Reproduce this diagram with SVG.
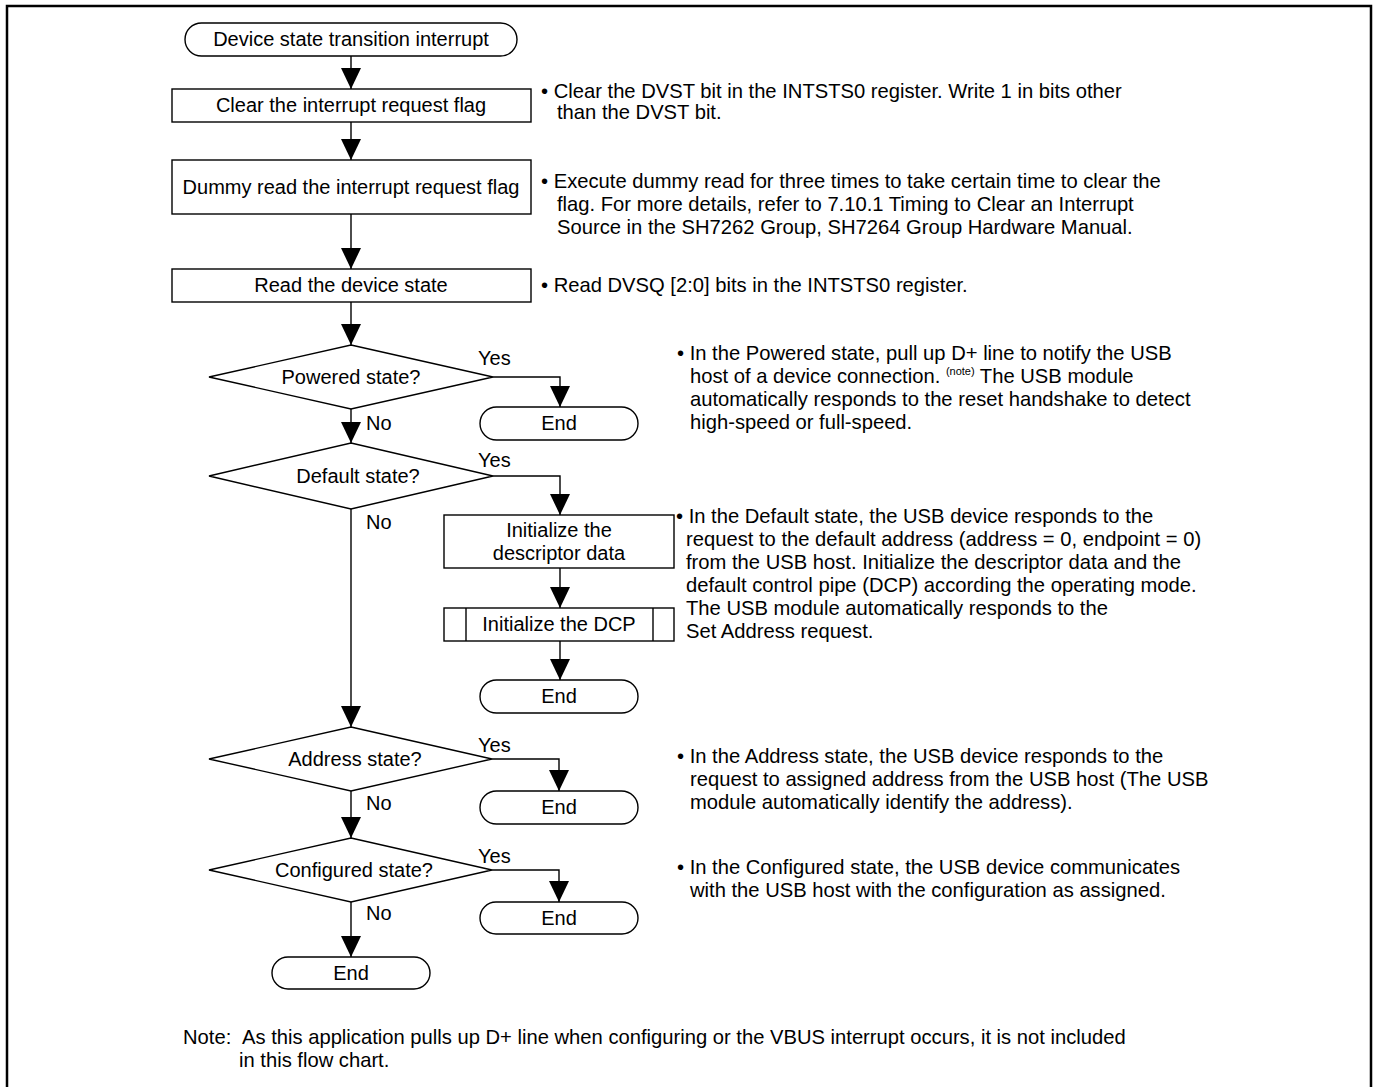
<svg xmlns="http://www.w3.org/2000/svg" width="1374" height="1087" viewBox="0 0 1374 1087">
  <style>
    .shape { fill: #ffffff; stroke: #000000; stroke-width: 1.4; }
    .line { fill: none; stroke: #000000; stroke-width: 1.4; }
    .t { font-family: "Liberation Sans", Arial, sans-serif; font-size: 20px; fill: #000000; }
    .n { font-size: 20.2px; }
    .c { text-anchor: middle; }
    .sup { font-size: 11px; }
  </style>
  <defs>
    <marker id="arrow" markerUnits="userSpaceOnUse" markerWidth="21" markerHeight="20" refX="21" refY="10" orient="auto" viewBox="0 0 21 20">
      <path d="M0,0 L21,10 L0,20 Z" fill="#000000"/>
    </marker>
  </defs>
  <rect width="1374" height="1087" fill="#ffffff"/>

  <!-- outer frame (open at the bottom edge of the page) -->
  <path d="M7,1095 L7,6 L1371,6 L1371,1095" fill="none" stroke="#000000" stroke-width="2.5"/>

  <!-- connectors -->
  <g id="connectors">
    <path class="line" d="M351,56 L351,89" marker-end="url(#arrow)"/>
    <path class="line" d="M351,122 L351,160" marker-end="url(#arrow)"/>
    <path class="line" d="M351,214 L351,269" marker-end="url(#arrow)"/>
    <path class="line" d="M351,302 L351,345" marker-end="url(#arrow)"/>
    <path class="line" d="M351,409 L351,443" marker-end="url(#arrow)"/>
    <path class="line" d="M351,509 L351,727" marker-end="url(#arrow)"/>
    <path class="line" d="M351,791 L351,838" marker-end="url(#arrow)"/>
    <path class="line" d="M351,902 L351,957" marker-end="url(#arrow)"/>
    <path class="line" d="M493,377 L560,377 L560,407" marker-end="url(#arrow)"/>
    <path class="line" d="M493,476 L560,476 L560,515" marker-end="url(#arrow)"/>
    <path class="line" d="M560,568 L560,608" marker-end="url(#arrow)"/>
    <path class="line" d="M560,641 L560,680" marker-end="url(#arrow)"/>
    <path class="line" d="M492,759 L559,759 L559,791" marker-end="url(#arrow)"/>
    <path class="line" d="M492,870 L559,870 L559,902" marker-end="url(#arrow)"/>
    <text class="t" x="478" y="365">Yes</text>
    <text class="t" x="478" y="467">Yes</text>
    <text class="t" x="478" y="752">Yes</text>
    <text class="t" x="478" y="863">Yes</text>
    <text class="t" x="366" y="430">No</text>
    <text class="t" x="366" y="529">No</text>
    <text class="t" x="366" y="810">No</text>
    <text class="t" x="366" y="920">No</text>
  </g>

  <!-- flow nodes -->
  <g id="start">
    <rect class="shape" x="185" y="23" width="332" height="33" rx="16.5" ry="16.5"/>
    <text class="t c" x="351" y="46">Device state transition interrupt</text>
  </g>
  <g id="clear-flag">
    <rect class="shape" x="172" y="89" width="359" height="33"/>
    <text class="t c" x="351" y="112">Clear the interrupt request flag</text>
  </g>
  <g id="dummy-read">
    <rect class="shape" x="172" y="160" width="359" height="54"/>
    <text class="t c" x="351" y="194">Dummy read the interrupt request flag</text>
  </g>
  <g id="read-state">
    <rect class="shape" x="172" y="269" width="359" height="33"/>
    <text class="t c" x="351" y="292">Read the device state</text>
  </g>
  <g id="powered">
    <polygon class="shape" points="351,345 493,377 351,409 209,377"/>
    <text class="t c" x="351" y="384">Powered state?</text>
  </g>
  <g id="end-powered">
    <rect class="shape" x="480" y="407" width="158" height="33" rx="16.5" ry="16.5"/>
    <text class="t c" x="559" y="430">End</text>
  </g>
  <g id="default">
    <polygon class="shape" points="351,443 493,476 351,509 209,476"/>
    <text class="t c" x="358" y="483">Default state?</text>
  </g>
  <g id="init-descriptor">
    <rect class="shape" x="444" y="515" width="230" height="53"/>
    <text class="t c" x="559" y="537">Initialize the</text>
    <text class="t c" x="559" y="560">descriptor data</text>
  </g>
  <g id="init-dcp">
    <rect class="shape" x="444" y="608" width="230" height="33"/>
    <line class="line" x1="466" y1="608" x2="466" y2="641"/>
    <line class="line" x1="653" y1="608" x2="653" y2="641"/>
    <text class="t c" x="559" y="631">Initialize the DCP</text>
  </g>
  <g id="end-default">
    <rect class="shape" x="480" y="680" width="158" height="33" rx="16.5" ry="16.5"/>
    <text class="t c" x="559" y="703">End</text>
  </g>
  <g id="address">
    <polygon class="shape" points="351,727 492,759 351,791 209,759"/>
    <text class="t c" x="355" y="766">Address state?</text>
  </g>
  <g id="end-address">
    <rect class="shape" x="480" y="791" width="158" height="33" rx="16.5" ry="16.5"/>
    <text class="t c" x="559" y="814">End</text>
  </g>
  <g id="configured">
    <polygon class="shape" points="351,838 492,870 351,902 209,870"/>
    <text class="t c" x="354" y="877">Configured state?</text>
  </g>
  <g id="end-configured">
    <rect class="shape" x="480" y="902" width="158" height="32" rx="16" ry="16"/>
    <text class="t c" x="559" y="925">End</text>
  </g>
  <g id="end-final">
    <rect class="shape" x="272" y="957" width="158" height="32" rx="16" ry="16"/>
    <text class="t c" x="351" y="980">End</text>
  </g>

  <!-- explanatory notes -->
  <g id="note-clear">
    <text class="t n" x="541" y="98">• Clear the DVST bit in the INTSTS0 register. Write 1 in bits other</text>
    <text class="t n" x="557" y="119">than the DVST bit.</text>
  </g>
  <g id="note-dummy">
    <text class="t n" x="541" y="188">• Execute dummy read for three times to take certain time to clear the</text>
    <text class="t n" x="557" y="211">flag. For more details, refer to 7.10.1 Timing to Clear an Interrupt</text>
    <text class="t n" x="557" y="234">Source in the SH7262 Group, SH7264 Group Hardware Manual.</text>
  </g>
  <g id="note-read">
    <text class="t n" x="541" y="292">• Read DVSQ [2:0] bits in the INTSTS0 register.</text>
  </g>
  <g id="note-powered">
    <text class="t n" x="677" y="360">• In the Powered state, pull up D+ line to notify the USB</text>
    <text class="t n" x="690" y="383">host of a device connection. <tspan class="sup" dy="-8">(note)</tspan><tspan dy="8"> The USB module</tspan></text>
    <text class="t n" x="690" y="406">automatically responds to the reset handshake to detect</text>
    <text class="t n" x="690" y="429">high-speed or full-speed.</text>
  </g>
  <g id="note-default">
    <text class="t n" x="676" y="523">• In the Default state, the USB device responds to the</text>
    <text class="t n" x="686" y="546">request to the default address (address = 0, endpoint = 0)</text>
    <text class="t n" x="686" y="569">from the USB host. Initialize the descriptor data and the</text>
    <text class="t n" x="686" y="592">default control pipe (DCP) according the operating mode.</text>
    <text class="t n" x="686" y="615">The USB module automatically responds to the</text>
    <text class="t n" x="686" y="638">Set Address request.</text>
  </g>
  <g id="note-address">
    <text class="t n" x="677" y="763">• In the Address state, the USB device responds to the</text>
    <text class="t n" x="690" y="786">request to assigned address from the USB host (The USB</text>
    <text class="t n" x="690" y="809">module automatically identify the address).</text>
  </g>
  <g id="note-configured">
    <text class="t n" x="677" y="874">• In the Configured state, the USB device communicates</text>
    <text class="t n" x="690" y="897">with the USB host with the configuration as assigned.</text>
  </g>
  <g id="footnote">
    <text class="t n" x="183" y="1044">Note:</text>
    <text class="t n" x="242" y="1044">As this application pulls up D+ line when configuring or the VBUS interrupt occurs, it is not included</text>
    <text class="t n" x="239" y="1067">in this flow chart.</text>
  </g>
</svg>
